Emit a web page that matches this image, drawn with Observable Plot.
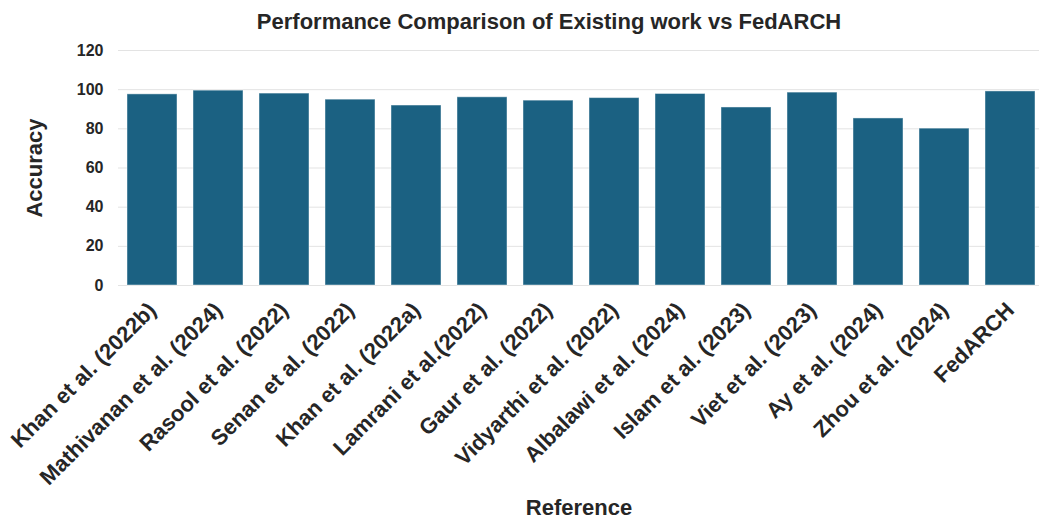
<!DOCTYPE html>
<html>
<head>
<meta charset="utf-8">
<script src="https://cdn.jsdelivr.net/npm/d3@7"></script>
<script src="https://cdn.jsdelivr.net/npm/@observablehq/plot@0.6"></script>
<style>
  html, body { margin: 0; padding: 0; background: #fff; }
  svg { font-family: "Liberation Sans", Arial, sans-serif; }
</style>
</head>
<body>
<div id="chart"></div>
<script>
const references = [
  "Khan et al. (2022b)", "Mathivanan et al. (2024)", "Rasool et al. (2022)",
  "Senan et al. (2022)", "Khan et al. (2022a)", "Lamrani et al.(2022)",
  "Gaur et al. (2022)", "Vidyarthi et al. (2022)", "Albalawi et al. (2024)",
  "Islam et al. (2023)", "Viet et al. (2023)", "Ay et al. (2024)",
  "Zhou et al. (2024)", "FedARCH"
];
const accuracy = [97.6, 99.5, 98.0, 94.9, 91.9, 96.1, 94.4, 95.7, 97.8, 90.9, 98.5, 85.3, 80.1, 99.1];
const yTicks = [0, 20, 40, 60, 80, 100, 120];
const title = "Performance Comparison of Existing work vs FedARCH";

const data = references.map((r, i) => ({reference: r, accuracy: accuracy[i]}));

const chart = Plot.plot({
  width: 1039,
  height: 519,
  marginLeft: 118,
  marginRight: 0,
  marginTop: 50,
  marginBottom: 234,
  style: {fontFamily: "'Liberation Sans', Arial, sans-serif", background: "#fff", overflow: "visible"},
  x: {domain: references, range: [119, 1043], paddingInner: 0.25, paddingOuter: 0.125, label: null},
  y: {domain: [0, 120], label: null},
  marks: [
    Plot.gridY(yTicks, {stroke: "#e3e3e3", strokeOpacity: 1, strokeWidth: 1}),
    Plot.barY(data, {x: "reference", y: "accuracy", fill: "#1b6182", stroke: "#ffffff", strokeOpacity: 0.45, strokeWidth: 1}),
    Plot.axisY({ticks: yTicks, tickSize: 0, tickPadding: 15, fontSize: 16, fontWeight: "bold", fill: "#262626", label: null}),
    Plot.axisX({tickSize: 0, tickPadding: 21, tickRotate: -45, fontSize: 22, fontWeight: "bold", fill: "#262626", label: null}),
    Plot.text([title], {frameAnchor: "top", dy: -37, dx: -30, fontSize: 22, fontWeight: "bold", fill: "#262626"}),
    Plot.text(["Accuracy"], {frameAnchor: "left", textAnchor: "middle", dx: -84, rotate: -90, fontSize: 22, fontWeight: "bold", fill: "#262626"}),
    Plot.text(["Reference"], {frameAnchor: "bottom", dy: 229, fontSize: 22, fontWeight: "bold", fill: "#262626"})
  ]
});
document.getElementById("chart").appendChild(chart);
</script>
</body>
</html>
